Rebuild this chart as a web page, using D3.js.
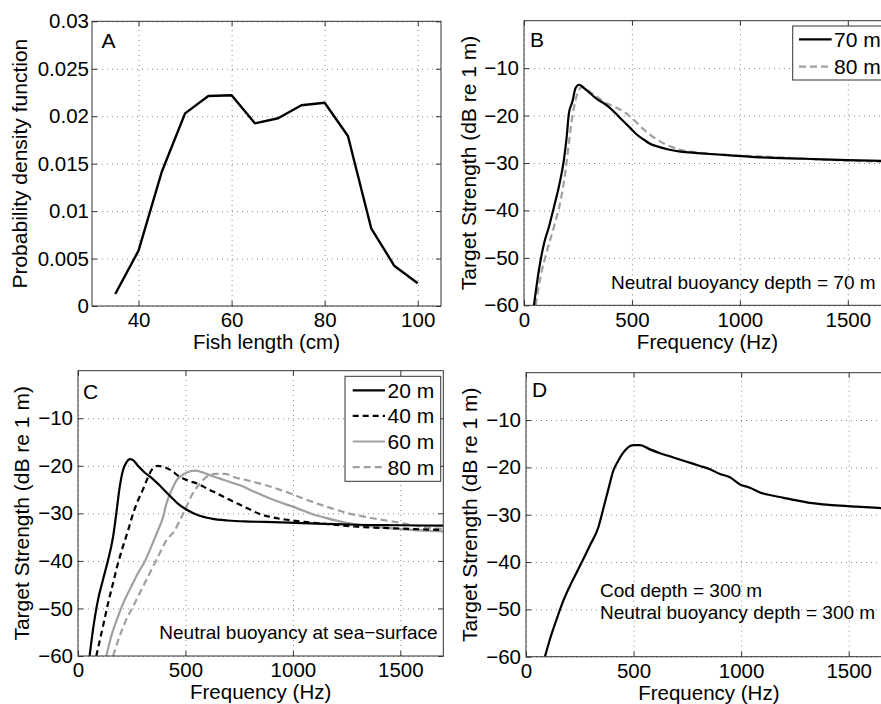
<!DOCTYPE html>
<html>
<head>
<meta charset="utf-8">
<script src="https://cdn.jsdelivr.net/npm/d3@7"></script>
<style>
  html, body { margin: 0; padding: 0; background: #fff; }
  svg { display: block; font-family: "Liberation Sans", Arial, Helvetica, sans-serif; }
</style>
</head>
<body>
<svg id="fig" width="881" height="704"></svg>
<script>
// ---------------- DATA ----------------
// Panel A: fish length distribution
const lengthsA = [35, 40, 45, 50, 55, 60, 65, 70, 75, 80, 85, 90, 95, 100];
const pdfA = [0.00126, 0.00583, 0.01415, 0.0203, 0.02213, 0.0222, 0.01925, 0.01978, 0.02115, 0.02142, 0.01791, 0.00819, 0.00421, 0.00239];
const ticksAx = [40, 60, 80, 100];
const ticksAy = [0, 0.005, 0.01, 0.015, 0.02, 0.025, 0.03];

// Panel B: neutral buoyancy depth = 70 m, cod depths 70 m / 80 m
const freqB70 = [46, 69, 93, 116, 139, 162, 185, 198, 208, 224, 239, 255, 278, 309, 340, 370, 401, 432, 463, 494, 525, 556, 586, 617, 664, 725, 802, 926, 1093, 1300, 1500, 1700];
const tsB70 = [-60, -52.6, -46.9, -43.4, -39.2, -34.9, -29.3, -24.4, -19.5, -17.1, -14.2, -13.5, -14.2, -15.4, -16.6, -17.4, -18.5, -19.9, -21.3, -22.7, -24.1, -25.1, -26.0, -26.5, -27.1, -27.6, -27.9, -28.3, -28.8, -29.1, -29.4, -29.6];
const freqB80 = [54, 77, 108, 139, 170, 193, 208, 224, 239, 255, 270, 293, 324, 370, 417, 463, 509, 556, 617, 679, 741, 833, 926, 1093, 1300, 1500, 1700];
const tsB80 = [-60, -53.9, -48.3, -43.4, -37.8, -31.4, -25.8, -20.2, -16.7, -14.6, -13.9, -14.6, -15.6, -17.1, -18.1, -19.2, -20.9, -23.0, -25.1, -26.5, -27.4, -27.9, -28.3, -28.6, -29.1, -29.5, -29.8];

// Panel C: neutral buoyancy at sea-surface, depths 20/40/60/80 m
const freqC20 = [54, 70, 93, 116, 140, 163, 178, 194, 209, 225, 241, 256, 279, 310, 349, 388, 427, 466, 512, 559, 621, 698, 776, 869, 1009, 1148, 1300, 1500, 1700];
const tsC20 = [-60, -54.4, -48.2, -44.0, -39.8, -35.0, -30.1, -24.5, -21.0, -19.3, -18.6, -18.8, -20.0, -21.4, -22.8, -24.5, -26.3, -28.0, -29.4, -30.4, -31.1, -31.5, -31.7, -31.8, -32.0, -32.2, -32.4, -32.5, -32.6];
const freqC40 = [85, 116, 140, 163, 186, 209, 233, 256, 279, 303, 326, 344, 372, 396, 435, 466, 512, 559, 605, 652, 698, 745, 791, 838, 900, 962, 1055, 1148, 1300, 1500, 1700];
const tsC40 = [-60, -53.8, -48.9, -44.7, -40.5, -37.0, -33.6, -30.1, -27.3, -24.9, -22.4, -20.8, -20.0, -20.2, -21.0, -22.1, -23.1, -23.8, -24.9, -25.9, -27.0, -28.0, -29.0, -30.0, -30.8, -31.3, -31.8, -32.2, -32.8, -33.2, -33.5];
const freqC60 = [132, 155, 186, 217, 248, 279, 310, 341, 372, 396, 411, 435, 458, 481, 512, 543, 582, 621, 667, 714, 760, 807, 853, 900, 962, 1024, 1086, 1148, 1250, 1350, 1500, 1700];
const tsC60 = [-60, -55.8, -51.7, -48.2, -45.4, -42.6, -40.2, -37.0, -33.6, -30.8, -28.0, -25.2, -23.1, -22.1, -21.3, -21.0, -21.4, -22.1, -22.8, -23.5, -24.2, -25.2, -26.1, -27.0, -28.0, -29.0, -30.1, -30.9, -32.0, -32.7, -33.3, -33.8];
const freqC80 = [163, 194, 225, 256, 287, 318, 349, 380, 411, 450, 481, 504, 528, 559, 597, 636, 683, 729, 791, 853, 931, 993, 1055, 1117, 1164, 1250, 1344, 1500, 1600, 1700];
const tsC80 = [-60, -55.8, -52.3, -49.6, -46.8, -44.0, -41.2, -38.4, -35.7, -33.6, -30.8, -28.7, -26.3, -24.2, -22.4, -21.7, -21.7, -22.4, -23.1, -23.8, -24.9, -25.9, -27.0, -28.0, -28.7, -29.9, -30.8, -32.0, -32.8, -33.3];

// Panel D: cod depth = 300 m, neutral buoyancy depth = 300 m
const freqD = [88, 112, 143, 174, 212, 251, 297, 336, 359, 383, 406, 429, 452, 476, 499, 530, 576, 623, 685, 747, 809, 855, 902, 948, 995, 1041, 1088, 1150, 1227, 1305, 1382, 1460, 1537, 1650, 1700];
const tsD = [-60, -56.2, -52.0, -48.1, -44.3, -40.8, -36.5, -32.7, -28.8, -24.6, -20.7, -18.6, -16.9, -15.7, -15.3, -15.3, -16.2, -17.0, -17.9, -18.8, -19.7, -20.4, -21.4, -22.1, -23.6, -24.3, -25.3, -26.0, -26.7, -27.4, -27.8, -28.1, -28.3, -28.6, -28.7];

const ticksFx = [0, 500, 1000, 1500];
const ticksTSy = [-60, -50, -40, -30, -20, -10];

const legendB = ["70 m", "80 m"];
const legendC = ["20 m", "40 m", "60 m", "80 m"];

// ---------------- DRAWING ----------------
const svg = d3.select("#fig");
const TICKFONT = 20.5;
const LABELFONT = 20.5;
const GRAY = "#a0a0a0";
const minusFmt = d => d < 0 ? "\u2212" + Math.abs(d) : String(d);

function panel(cfg) {
  const g = svg.append("g").attr("transform", `translate(${cfg.left},${cfg.top})`);
  const x = d3.scaleLinear().domain(cfg.xDomain).range([0, cfg.w]);
  const y = d3.scaleLinear().domain(cfg.yDomain).range([cfg.h, 0]);
  const clipId = "clip" + cfg.name;
  g.append("clipPath").attr("id", clipId).append("rect").attr("width", cfg.w).attr("height", cfg.h);

  // grid
  g.append("g").attr("transform", `translate(0,${cfg.h})`)
    .call(d3.axisBottom(x).tickValues(cfg.xTicks).tickSize(-cfg.h).tickFormat(""))
    .call(s => s.select(".domain").remove())
    .call(s => s.selectAll("line").attr("stroke", "#8a8a8a").attr("stroke-dasharray", "1,4").attr("stroke-width", 1));
  g.append("g")
    .call(d3.axisLeft(y).tickValues(cfg.yTicks).tickSize(-cfg.w).tickFormat(""))
    .call(s => s.select(".domain").remove())
    .call(s => s.selectAll("line").attr("stroke", "#8a8a8a").attr("stroke-dasharray", "1,4").attr("stroke-width", 1));

  // lines
  const plot = g.append("g").attr("clip-path", `url(#${clipId})`);
  cfg.series.forEach(s => {
    const pts = s.xs.map((v, i) => [v, s.ys[i]]);
    plot.append("path").datum(pts)
      .attr("fill", "none")
      .attr("stroke", s.color)
      .attr("stroke-width", s.width || 2.2)
      .attr("stroke-dasharray", s.dash || null)
      .attr("stroke-linejoin", "round")
      .attr("d", d3.line().x(d => x(d[0])).y(d => y(d[1])).curve(s.curve || d3.curveMonotoneX));
  });

  // axes with inward ticks
  const axB = g.append("g").attr("transform", `translate(0,${cfg.h})`)
    .call(d3.axisBottom(x).tickValues(cfg.xTicks).tickSizeInner(-5).tickSizeOuter(0).tickPadding(6.8).tickFormat(cfg.xFmt || (d => d)));
  const axL = g.append("g")
    .call(d3.axisLeft(y).tickValues(cfg.yTicks).tickSizeInner(-5).tickSizeOuter(0).tickPadding(cfg.yPad || 5).tickFormat(cfg.yFmt || minusFmt));
  g.append("g").call(d3.axisTop(x).tickValues(cfg.xTicks).tickSizeInner(-5).tickSizeOuter(0).tickFormat(""));
  g.append("g").attr("transform", `translate(${cfg.w},0)`)
    .call(d3.axisRight(y).tickValues(cfg.yTicks).tickSizeInner(-5).tickSizeOuter(0).tickFormat(""));
  g.selectAll(".domain").remove();
  g.selectAll(".tick line").filter(function () { return !this.getAttribute("stroke-dasharray"); })
    .attr("stroke", "#333");
  [axB, axL].forEach(a => a.selectAll("text").attr("font-size", TICKFONT).attr("fill", "#000")
    .attr("font-family", "'Liberation Sans', Arial, sans-serif"));

  // box
  g.append("rect").attr("width", cfg.w).attr("height", cfg.h)
    .attr("fill", "none").attr("stroke", "#333").attr("stroke-width", 1);

  // labels
  g.append("text").attr("x", cfg.w / 2).attr("y", cfg.h + 43.5)
    .attr("text-anchor", "middle").attr("font-size", LABELFONT).text(cfg.xLabel);
  g.append("text").attr("transform", `translate(${cfg.yLabelX - cfg.left},${cfg.h / 2}) rotate(-90)`)
    .attr("text-anchor", "middle").attr("font-size", 21).text(cfg.yLabel);
  g.append("text").attr("x", cfg.letterX - cfg.left).attr("y", cfg.letterY - cfg.top)
    .attr("font-size", 21).text(cfg.name);
  return { g, x, y };
}

// Panel A
panel({
  name: "A", left: 92, top: 21.3, w: 349, h: 284.7,
  xDomain: [30, 105], yDomain: [0, 0.03], xTicks: ticksAx, yTicks: ticksAy,
  yFmt: d => String(d), yPad: 3,
  xLabel: "Fish length (cm)", yLabel: "Probability density function", yLabelX: 26.7,
  letterX: 101.5, letterY: 48,
  series: [{ xs: lengthsA, ys: pdfA, color: "#000", width: 2.4, curve: d3.curveLinear }]
});

// Panel B
panel({
  name: "B", left: 524, top: 20.7, w: 367, h: 284.6,
  xDomain: [0, 1700], yDomain: [-60, 0], xTicks: ticksFx, yTicks: ticksTSy,
  xLabel: "Frequency (Hz)", yLabel: "Target Strength (dB re 1 m)", yLabelX: 475.5,
  letterX: 530, letterY: 46.7,
  series: [
    { xs: freqB80, ys: tsB80, color: GRAY, dash: "7,4" },
    { xs: freqB70, ys: tsB70, color: "#000" }
  ]
});

// Panel C
panel({
  name: "C", left: 78, top: 370.7, w: 365.3, h: 285.3,
  xDomain: [0, 1700], yDomain: [-60, 0], xTicks: ticksFx, yTicks: ticksTSy,
  xLabel: "Frequency (Hz)", yLabel: "Target Strength (dB re 1 m)", yLabelX: 29.3,
  letterX: 83, letterY: 398.7,
  series: [
    { xs: freqC80, ys: tsC80, color: GRAY, dash: "7,4" },
    { xs: freqC60, ys: tsC60, color: GRAY },
    { xs: freqC40, ys: tsC40, color: "#000", dash: "6,4" },
    { xs: freqC20, ys: tsC20, color: "#000" }
  ]
});

// Panel D
panel({
  name: "D", left: 526, top: 372.7, w: 365.7, h: 284,
  xDomain: [0, 1700], yDomain: [-60, 0], xTicks: ticksFx, yTicks: ticksTSy,
  xLabel: "Frequency (Hz)", yLabel: "Target Strength (dB re 1 m)", yLabelX: 477,
  letterX: 532, letterY: 397,
  series: [{ xs: freqD, ys: tsD, color: "#000" }]
});

// Annotations
function note(x, y, t) {
  svg.append("text").attr("x", x).attr("y", y).attr("font-size", 19).text(t);
}
note(611, 289.3, "Neutral buoyancy depth = 70 m");
note(159.3, 638.7, "Neutral buoyancy at sea\u2212surface");
note(600, 597, "Cod depth = 300 m");
note(600, 618.7, "Neutral buoyancy depth = 300 m");

// Legends
function legend(box, rows, styles) {
  svg.append("rect").attr("x", box.x).attr("y", box.y).attr("width", box.w).attr("height", box.h)
    .attr("fill", "#fff").attr("stroke", "#333").attr("stroke-width", 1);
  rows.forEach((r, i) => {
    const yy = box.y0 + i * box.dy;
    svg.append("line").attr("x1", box.lx1).attr("x2", box.lx2).attr("y1", yy).attr("y2", yy)
      .attr("stroke", styles[i].color).attr("stroke-width", 2.2)
      .attr("stroke-dasharray", styles[i].dash || null);
    svg.append("text").attr("x", box.tx).attr("y", yy).attr("dy", "0.36em")
      .attr("font-size", 21).text(r);
  });
}
legend({ x: 792.7, y: 26, w: 100, h: 54, y0: 39.3, dy: 27.4, lx1: 799, lx2: 831.7, tx: 834 },
  legendB, [{ color: "#000" }, { color: GRAY, dash: "7,4" }]);
legend({ x: 345, y: 376.3, w: 95.7, h: 105, y0: 390.3, dy: 25.6, lx1: 352.7, lx2: 385, tx: 387.5 },
  legendC, [{ color: "#000" }, { color: "#000", dash: "6,4" }, { color: GRAY }, { color: GRAY, dash: "7,4" }]);
</script>
</body>
</html>
